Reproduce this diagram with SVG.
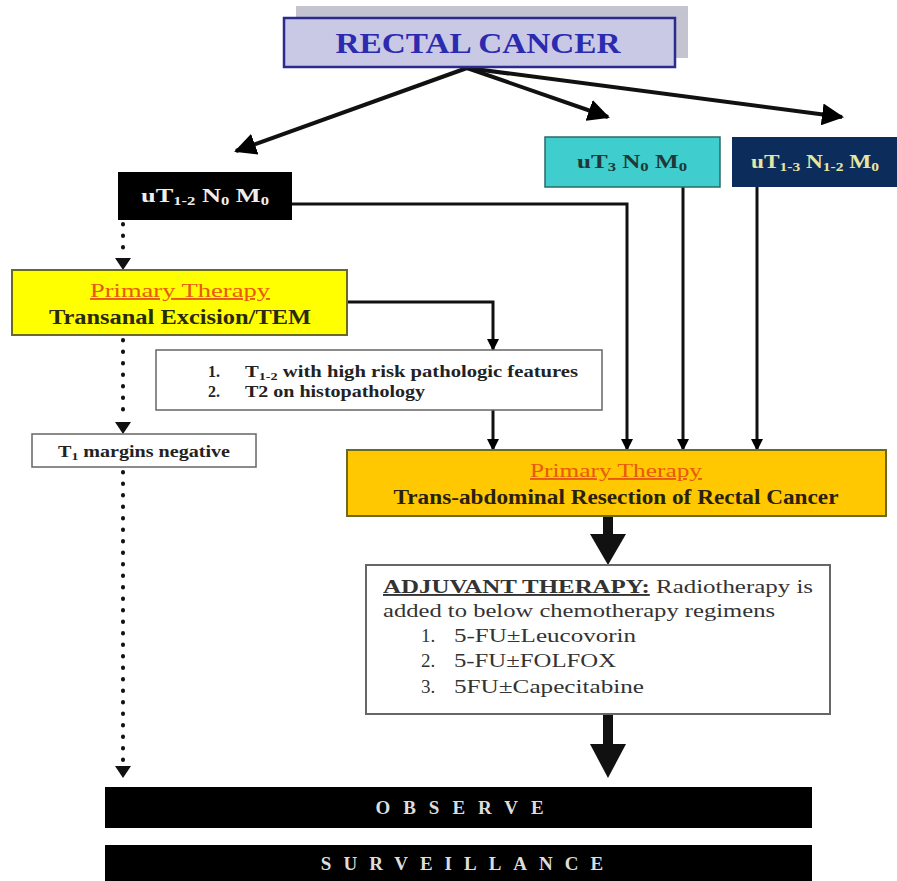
<svg xmlns="http://www.w3.org/2000/svg" width="897" height="881" viewBox="0 0 897 881">
<defs>
<marker id="ahs" markerWidth="12" markerHeight="12" refX="11" refY="6" orient="auto" markerUnits="userSpaceOnUse" viewBox="0 0 12 12"><path d="M0,0 L12,6 L0,12 z" fill="#000"/></marker>
<marker id="ahb" markerWidth="22" markerHeight="22" refX="20" refY="11" orient="auto" markerUnits="userSpaceOnUse" viewBox="0 0 22 22"><path d="M0,0 L22,11 L0,22 z" fill="#000"/></marker>
<style>
text{font-family:"Liberation Serif","DejaVu Serif",serif}
.b{font-weight:bold}
.ln{fill:none;stroke:#111;stroke-width:3}
.dot{fill:none;stroke:#111;stroke-width:4;stroke-linecap:round;stroke-dasharray:0.5 11}
.thick{fill:none;stroke:#111;stroke-width:10}
.pt{fill:#e85a10;font-size:19px;text-decoration:underline}
.adj{font-size:19px;fill:#333}
</style>
</defs>
<rect width="897" height="881" fill="#fff"/>
<g id="connectors">
<line x1="467" y1="68" x2="236" y2="151" stroke="#111" stroke-width="4" marker-end="url(#ahb)"/>
<line x1="467" y1="68" x2="608" y2="117" stroke="#111" stroke-width="4" marker-end="url(#ahb)"/>
<line x1="467" y1="68" x2="842" y2="117" stroke="#111" stroke-width="4" marker-end="url(#ahb)"/>
<path class="ln" d="M292,204 H627 V450" marker-end="url(#ahs)"/>
<path class="ln" d="M683,187 V450" marker-end="url(#ahs)"/>
<path class="ln" d="M757,187 V450" marker-end="url(#ahs)"/>
<path class="ln" d="M347,302 H493 V350" marker-end="url(#ahs)"/>
<path class="ln" d="M493,410 V450" marker-end="url(#ahs)"/>
<path class="dot" d="M123,224 V258"/>
<path d="M115,258 L131,258 L123,270 z" fill="#111"/>
<path class="dot" d="M123,340 V420"/>
<path d="M115,422 L131,422 L123,434 z" fill="#111"/>
<path class="dot" d="M123,472 V764"/>
<path d="M115,766 L131,766 L123,778 z" fill="#111"/>
<line x1="608" y1="516" x2="608" y2="536" class="thick"/>
<path d="M590,534 L626,534 L608,565 z" fill="#111"/>
<line x1="608" y1="714" x2="608" y2="746" class="thick"/>
<path d="M590,744 L626,744 L608,778 z" fill="#111"/>
</g>
<g id="rectal-cancer">
<rect x="296" y="6" width="392" height="52" fill="#c4c4d0"/>
<rect x="284" y="18" width="391" height="49" fill="#c9c9e6" stroke="#2a2a90" stroke-width="2.5"/>
<text x="478" y="53" text-anchor="middle" class="b" font-size="30" fill="#2b2bb0" textLength="285" lengthAdjust="spacingAndGlyphs">RECTAL CANCER</text>
</g>
<g id="ut12">
<rect x="118" y="172" width="174" height="48" fill="#000"/>
<text x="205" y="202" text-anchor="middle" class="b" font-size="19" fill="#eee" textLength="128" lengthAdjust="spacingAndGlyphs">uT<tspan font-size="12" dy="3">1-2</tspan><tspan dy="-3"> N</tspan><tspan font-size="12" dy="3">0</tspan><tspan dy="-3"> M</tspan><tspan font-size="12" dy="3">0</tspan></text>
</g>
<g id="ut3">
<rect x="545" y="137" width="175" height="50" fill="#3fcdcd" stroke="#2a6a6a" stroke-width="1.5"/>
<text x="632" y="168" text-anchor="middle" class="b" font-size="18" fill="#203838" textLength="110" lengthAdjust="spacingAndGlyphs">uT<tspan font-size="12" dy="3">3</tspan><tspan dy="-3"> N</tspan><tspan font-size="12" dy="3">0</tspan><tspan dy="-3"> M</tspan><tspan font-size="12" dy="3">0</tspan></text>
</g>
<g id="ut13">
<rect x="732" y="137" width="165" height="50" fill="#0c2c5c"/>
<text x="815" y="168" text-anchor="middle" class="b" font-size="18" fill="#e6e6a0" textLength="128" lengthAdjust="spacingAndGlyphs">uT<tspan font-size="12" dy="3">1-3</tspan><tspan dy="-3"> N</tspan><tspan font-size="12" dy="3">1-2</tspan><tspan dy="-3"> M</tspan><tspan font-size="12" dy="3">0</tspan></text>
</g>
<g id="primary-tem">
<rect x="12" y="270" width="335" height="65" fill="#ffff00" stroke="#6a6a20" stroke-width="2"/>
<text x="180" y="297" text-anchor="middle" class="pt" textLength="180" lengthAdjust="spacingAndGlyphs">Primary Therapy</text>
<text x="180" y="324" text-anchor="middle" class="b" font-size="20" fill="#2a2a10" textLength="262" lengthAdjust="spacingAndGlyphs">Transanal Excision/TEM</text>
</g>
<g id="criteria">
<rect x="156" y="350" width="446" height="60" fill="#fff" stroke="#666" stroke-width="1.5"/>
<text x="208" y="377" class="b" font-size="16" fill="#222">1.</text>
<text x="245" y="377" class="b" font-size="16" fill="#222" textLength="333" lengthAdjust="spacingAndGlyphs">T<tspan font-size="11" dy="3">1-2</tspan><tspan dy="-3"> with high risk pathologic features</tspan></text>
<text x="208" y="397" class="b" font-size="16" fill="#222">2.</text>
<text x="245" y="397" class="b" font-size="16" fill="#222" textLength="180" lengthAdjust="spacingAndGlyphs">T2 on histopathology</text>
</g>
<g id="margins">
<rect x="32" y="434" width="224" height="33" fill="#fff" stroke="#666" stroke-width="1.5"/>
<text x="144" y="457" text-anchor="middle" class="b" font-size="16" fill="#222" textLength="172" lengthAdjust="spacingAndGlyphs">T<tspan font-size="11" dy="3">1</tspan><tspan dy="-3"> margins negative</tspan></text>
</g>
<g id="primary-resection">
<rect x="347" y="450" width="539" height="66" fill="#ffc800" stroke="#6a6a20" stroke-width="2"/>
<text x="616" y="477" text-anchor="middle" class="pt" textLength="172" lengthAdjust="spacingAndGlyphs">Primary Therapy</text>
<text x="616" y="504" text-anchor="middle" class="b" font-size="20" fill="#2a2010" textLength="445" lengthAdjust="spacingAndGlyphs">Trans-abdominal Resection of Rectal Cancer</text>
</g>
<g id="adjuvant">
<rect x="366" y="565" width="464" height="149" fill="#fff" stroke="#666" stroke-width="2"/>
<text x="383" y="593" class="adj" textLength="430" lengthAdjust="spacingAndGlyphs"><tspan text-decoration="underline" class="b">ADJUVANT THERAPY:</tspan> Radiotherapy is</text>
<text x="383" y="617" class="adj" textLength="392" lengthAdjust="spacingAndGlyphs">added to below chemotherapy regimens</text>
<text x="421" y="642" class="adj">1.</text>
<text x="454" y="642" class="adj" textLength="182" lengthAdjust="spacingAndGlyphs">5-FU±Leucovorin</text>
<text x="421" y="667" class="adj">2.</text>
<text x="454" y="667" class="adj" textLength="162" lengthAdjust="spacingAndGlyphs">5-FU±FOLFOX</text>
<text x="421" y="693" class="adj">3.</text>
<text x="454" y="693" class="adj" textLength="190" lengthAdjust="spacingAndGlyphs">5FU±Capecitabine</text>
</g>
<g id="observe">
<rect x="105" y="787" width="707" height="41" fill="#000"/>
<text x="466" y="814" text-anchor="middle" class="b" font-size="19" fill="#ddd" letter-spacing="13">OBSERVE</text>
</g>
<g id="surveillance">
<rect x="105" y="845" width="707" height="36" fill="#000"/>
<text x="468" y="870" text-anchor="middle" class="b" font-size="19" fill="#ddd" letter-spacing="12">SURVEILLANCE</text>
</g>
</svg>
